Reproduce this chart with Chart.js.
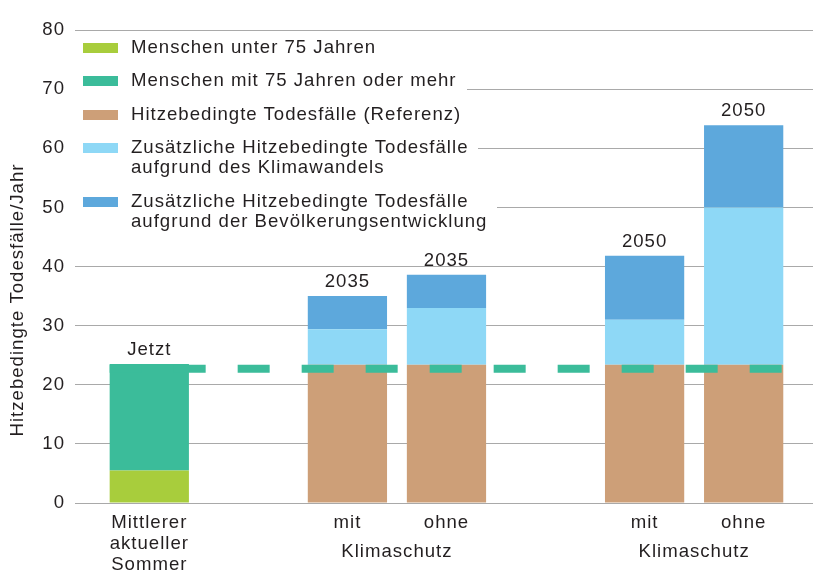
<!DOCTYPE html>
<html>
<head>
<meta charset="utf-8">
<script src="https://cdn.jsdelivr.net/npm/chart.js@4.4.1/dist/chart.umd.min.js"></script>
<style>
    body { margin: 0; background: #fff; }
    .wrap { position: relative; width: 813px; height: 576px; }
    #legend {
        position: absolute; left: 75px; top: 36.6px;
        font: 18.6px 'Liberation Sans', Arial, sans-serif;
        letter-spacing: 1px; line-height: 20px; color: #231f20;
    }
    .item {
        display: flex; align-items: flex-start; background: #fff;
        padding: 0 10px 0 8px; margin-bottom: 13.5px; width: max-content;
        white-space: pre-line;
    }
    .swatch { width: 35px; height: 10px; margin-top: 6.4px; margin-right: 13px; flex: none; }
</style>
</head>
<body>
<div class="wrap">
    <canvas id="chart" width="813" height="576"></canvas>
    <div id="legend"></div>
</div>
<script>
// x positions of the bars (gaps at 1 and 4)
const slots = [0, 2, 3, 5, 6];
const tickLabels = [['Mittlerer', 'aktueller', 'Sommer'], 'mit', 'ohne', 'mit', 'ohne'];
const topLabels = ['Jetzt', '2035', '2035', '2050', '2050'];
const groupLabels = ['Klimaschutz', 'Klimaschutz'];
const groupSlots = [[2, 3], [5, 6]];

// Series (Todesfälle / Jahr)
const under75 = [5.5, null, null, null, null];
const over75 = [18.0, null, null, null, null];
const reference = [null, 23.4, 23.4, 23.4, 23.4];
const climate = [null, 6.0, 9.6, 7.6, 26.6];
const population = [null, 5.6, 5.6, 10.8, 13.9];
const referenceLine = 22.7;

const seriesLabels = [
    'Menschen unter 75 Jahren',
    'Menschen mit 75 Jahren oder mehr',
    'Hitzebedingte Todesfälle (Referenz)',
    'Zusätzliche Hitzebedingte Todesfälle\naufgrund des Klimawandels',
    'Zusätzliche Hitzebedingte Todesfälle\naufgrund der Bevölkerungsentwicklung'
];
const seriesColors = ['#a8cd3c', '#3bbc9a', '#cd9f78', '#8ed8f6', '#5da8dc'];
const seriesValues = [under75, over75, reference, climate, population];

const FONT = "'Liberation Sans', Arial, sans-serif";
const TEXT = '#231f20';

function toPoints(values) {
    return slots.map((x, i) => ({ x: x, y: values[i] })).filter(p => p.y !== null);
}

// Extra drawing: dashed reference line, labels above bars, group labels, y title
const extras = {
    id: 'extras',
    beforeDraw(chart) {
        chart.ctx.letterSpacing = '1px';
    },
    afterDatasetsDraw(chart) {
        const ctx = chart.ctx;
        const yScale = chart.scales.y;
        let left = Infinity, right = -Infinity;
        const tops = slots.map(() => Infinity);

        chart.data.datasets.forEach((ds, d) => {
            const meta = chart.getDatasetMeta(d);
            meta.data.forEach((el, j) => {
                const p = el.getProps(['x', 'y', 'width'], true);
                left = Math.min(left, p.x - p.width / 2);
                right = Math.max(right, p.x + p.width / 2);
                const k = slots.indexOf(ds.data[j].x);
                tops[k] = Math.min(tops[k], p.y);
            });
        });

        ctx.save();
        ctx.strokeStyle = '#3bbc9a';
        ctx.lineWidth = 8;
        ctx.setLineDash([32, 32]);
        const ly = yScale.getPixelForValue(referenceLine);
        ctx.beginPath();
        ctx.moveTo(left, ly);
        ctx.lineTo(right, ly);
        ctx.stroke();
        ctx.restore();

        ctx.save();
        ctx.fillStyle = TEXT;
        ctx.font = '18.6px ' + FONT;
        ctx.textAlign = 'center';
        ctx.textBaseline = 'alphabetic';
        slots.forEach((x, i) => {
            ctx.fillText(topLabels[i], chart.scales.x.getPixelForValue(x), tops[i] - 9);
        });
        ctx.restore();
    },
    afterDraw(chart) {
        const ctx = chart.ctx;
        const xScale = chart.scales.x;
        ctx.save();
        ctx.fillStyle = TEXT;
        ctx.font = '18.6px ' + FONT;
        ctx.textAlign = 'center';
        ctx.textBaseline = 'alphabetic';
        groupSlots.forEach((pair, i) => {
            const cx = (xScale.getPixelForValue(pair[0]) + xScale.getPixelForValue(pair[1])) / 2;
            ctx.fillText(groupLabels[i], cx, xScale.top + 53.5);
        });
        // y axis title
        ctx.translate(18, 300);
        ctx.rotate(-Math.PI / 2);
        ctx.textBaseline = 'middle';
        ctx.fillText('Hitzebedingte Todesfälle/Jahr', 0, 0);
        ctx.restore();
    }
};

new Chart(document.getElementById('chart'), {
    type: 'bar',
    data: {
        datasets: seriesValues.map((values, i) => ({
            label: seriesLabels[i],
            data: toPoints(values),
            backgroundColor: seriesColors[i],
            borderWidth: 0,
            barPercentage: 0.8,
            categoryPercentage: 1
        }))
    },
    options: {
        responsive: false,
        animation: false,
        layout: { padding: { top: 30, left: 0, right: 0, bottom: 0 } },
        plugins: {
            legend: { display: false },
            tooltip: { enabled: false }
        },
        scales: {
            x: {
                type: 'linear',
                min: -0.75,
                max: 6.7,
                offset: false,
                stacked: true,
                grid: { display: false, drawTicks: false, offset: false },
                border: { display: false },
                afterBuildTicks: scale => {
                    scale.ticks = slots.map(v => ({ value: v }));
                },
                afterFit: scale => { scale.height = 73; },
                ticks: {
                    autoSkip: false,
                    maxRotation: 0,
                    minRotation: 0,
                    padding: 9,
                    color: TEXT,
                    font: { family: FONT, size: 18.6, lineHeight: 1.13 },
                    callback: (value, index) => tickLabels[index]
                }
            },
            y: {
                min: 0,
                max: 80,
                stacked: true,
                afterFit: scale => { scale.width = 75; },
                grid: { color: '#a9a9a9', lineWidth: 1, drawTicks: false },
                border: { display: false },
                ticks: {
                    stepSize: 10,
                    padding: 10,
                    color: TEXT,
                    font: { family: FONT, size: 18.6 }
                }
            }
        }
    },
    plugins: [extras]
});

// Legend
const legend = document.getElementById('legend');
seriesLabels.forEach((label, i) => {
    const item = document.createElement('div');
    item.className = 'item';
    const sw = document.createElement('span');
    sw.className = 'swatch';
    sw.style.background = seriesColors[i];
    const txt = document.createElement('span');
    txt.textContent = label;
    item.appendChild(sw);
    item.appendChild(txt);
    legend.appendChild(item);
});
</script>
</body>
</html>
